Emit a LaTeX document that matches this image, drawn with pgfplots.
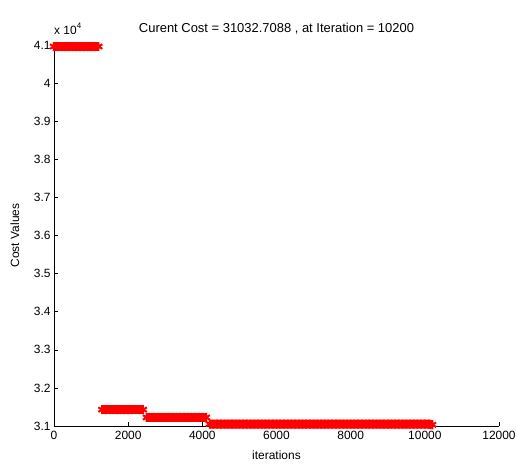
\documentclass[border=0pt]{standalone}
\usepackage{fontspec}
\setmainfont{Liberation Sans}
\usepackage{pgfplots}
\pgfplotsset{compat=1.18}
\begin{document}
\begin{tikzpicture}[font=\fontsize{12}{14}\selectfont]
\begin{axis}[
 scale only axis, width=445bp, height=381bp,
 xmin=0, xmax=12000, ymin=31000, ymax=41000,
 axis x line*=bottom, axis y line*=left,
 axis line style={-, black, line width=0.6bp},
 xtick={0,2000,4000,6000,8000,10000,12000},
 xticklabels={0,2000,4000,6000,8000,10000,12000},
 ytick={31000,32000,33000,34000,35000,36000,37000,38000,39000,40000,41000},
 yticklabels={3.1,3.2,3.3,3.4,3.5,3.6,3.7,3.8,3.9,4,4.1},
 scaled ticks=false,
 tick align=inside, major tick length=4bp,
 tick style={black, line width=0.6bp},
 tick label style={font=\fontsize{12}{14}\selectfont},
 xticklabel style={yshift=-2bp},
 /pgf/number format/assume math mode=true,
 xlabel={iterations}, ylabel={Cost Values},
 every axis y label/.append style={at={(rel axis cs:-0.07,0.5)}, anchor=south},
 xlabel style={yshift=-4bp},
 title={Curent Cost = 31032.7088 , at Iteration = 10200},
 title style={font=\fontsize{13}{15}\selectfont, yshift=1bp},
 clip=false,
]
\coordinate (bl) at (rel axis cs:0,0);
\pgfplotsset{band/.style={red, line width=9bp, mark=asterisk, mark size=4.5bp, mark options={line width=2bp}}}
\addplot[band] coordinates {
(0,40960)(100,40960)(200,40960)(300,40960)(400,40960)(500,40960)(600,40960)(700,40960)(800,40960)(900,40960)(1000,40960)(1100,40960)(1200,40960)
};
\addplot[band] coordinates {
(1300,31430)(1400,31430)(1500,31430)(1600,31430)(1700,31430)(1800,31430)(1900,31430)(2000,31430)(2100,31430)(2200,31430)(2300,31430)(2400,31430)
};
\addplot[band] coordinates {
(2500,31225)(2600,31225)(2700,31225)(2800,31225)(2900,31225)(3000,31225)(3100,31225)(3200,31225)(3300,31225)(3400,31225)(3500,31225)(3600,31225)(3700,31225)(3800,31225)(3900,31225)(4000,31225)(4100,31225)
};
\addplot[band] coordinates {
(4200,31050)(4300,31050)(4400,31050)(4500,31050)(4600,31050)(4700,31050)(4800,31050)(4900,31050)(5000,31050)(5100,31050)(5200,31050)(5300,31050)(5400,31050)(5500,31050)(5600,31050)(5700,31050)(5800,31050)(5900,31050)
(6000,31050)(6100,31050)(6200,31050)(6300,31050)(6400,31050)(6500,31050)(6600,31050)(6700,31050)(6800,31050)(6900,31050)(7000,31050)(7100,31050)(7200,31050)(7300,31050)(7400,31050)(7500,31050)(7600,31050)(7700,31050)(7800,31050)(7900,31050)
(8000,31050)(8100,31050)(8200,31050)(8300,31050)(8400,31050)(8500,31050)(8600,31050)(8700,31050)(8800,31050)(8900,31050)(9000,31050)(9100,31050)(9200,31050)(9300,31050)(9400,31050)(9500,31050)(9600,31050)(9700,31050)(9800,31050)(9900,31050)
(10000,31050)(10100,31050)(10200,31032.7)
};
\node[anchor=south west, inner sep=0] at (rel axis cs:0,1) [yshift=10bp] {x 10\raisebox{6bp}{\fontsize{8}{9}\selectfont 4}};
\end{axis}
\pgfresetboundingbox
\path[use as bounding box] (bl) ++(-54bp,-38bp) rectangle ++(516bp,464bp);
\end{tikzpicture}
\end{document}
